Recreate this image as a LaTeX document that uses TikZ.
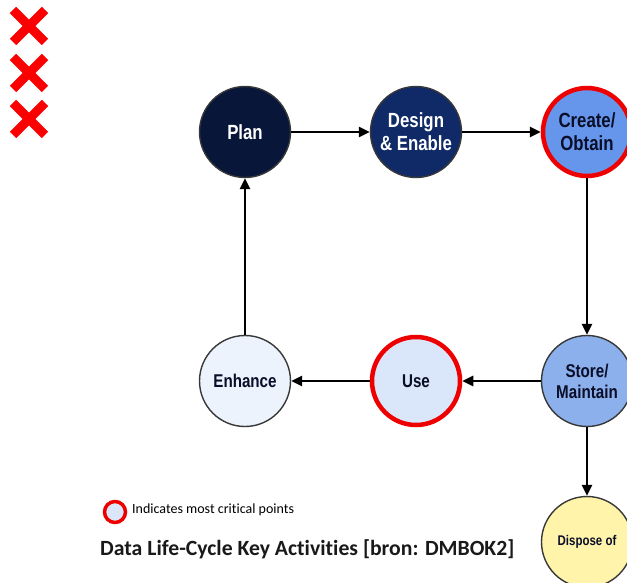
\documentclass[tikz,border=0pt]{standalone}
\usepackage{fontspec}
\usetikzlibrary{arrows.meta}
\setmainfont{Liberation Sans}
\newfontfamily\labelfont{Liberation Sans}[FakeStretch=0.82]
\newfontfamily\titlefont{Carlito}[Ligatures=NoCommon]

\definecolor{planfill}{RGB}{8,22,58}
\definecolor{designfill}{RGB}{16,42,104}
\definecolor{createfill}{RGB}{102,150,236}
\definecolor{storefill}{RGB}{140,176,236}
\definecolor{usefill}{RGB}{218,230,250}
\definecolor{enhancefill}{RGB}{236,243,253}
\definecolor{disposefill}{RGB}{255,244,170}
\definecolor{ringred}{RGB}{238,0,0}
\definecolor{crossred}{RGB}{250,0,0}
\definecolor{labeltext}{RGB}{10,14,40}

\tikzset{
  stage/.style={circle, draw=black!78, line width=1.4pt, minimum size=91pt,
    inner sep=0pt, align=center, text=labeltext,
    font=\labelfont\bfseries\fontsize{18.5}{21}\selectfont},
  bigtext/.style={font=\labelfont\bfseries\fontsize{20.5}{23}\selectfont},
  critical/.style={draw=ringred, line width=4.5pt, minimum size=88pt},
  flow/.style={-{Triangle[length=11pt,width=10pt]}, line width=2.6pt, black},
  crossbar/.style={line width=9pt, crossred},
}

\begin{document}
\begin{tikzpicture}[x=1pt,y=-1pt]
\useasboundingbox (0,0) rectangle (627,583);

% three red crosses
\foreach \cy in {26,73,119} {
  \draw[crossbar] (13,\cy-16) -- (45,\cy+16);
  \draw[crossbar] (13,\cy+16) -- (45,\cy-16);
}

% life-cycle stages
\node[stage, bigtext, fill=planfill, text=white] (plan) at (245,132) {Plan};
\node[stage, bigtext, fill=designfill, text=white] (design) at (416,132) {Design\\\& Enable};
\node[stage, bigtext, critical, fill=createfill] (create) at (587,132) {Create/\\Obtain};
\node[stage, fill=storefill] (store) at (587,381) {Store/\\Maintain};
\node[stage, critical, fill=usefill] (use) at (416,381) {Use};
\node[stage, fill=enhancefill] (enhance) at (245,381) {Enhance};
\node[stage, fill=disposefill,
      font=\labelfont\bfseries\fontsize{14}{16}\selectfont] (dispose) at (587,542) {Dispose of};

% flow between stages
\draw[flow] (plan) -- (design);
\draw[flow] (design) -- (create);
\draw[flow] (create) -- (store);
\draw[flow] (store) -- (use);
\draw[flow] (use) -- (enhance);
\draw[flow] (enhance) -- (plan);
\draw[flow] (store) -- (dispose);

% legend and caption
\node[circle, draw=ringred, line width=3.5pt, fill=usefill, minimum size=21pt,
      inner sep=0pt] (legend) at (115,512) {};
\node[anchor=west, inner sep=0pt, font=\titlefont\fontsize{14}{16}\selectfont]
  (legendtext) at (132,510) {Indicates most critical points};
\node[anchor=west, inner sep=0pt, font=\titlefont\bfseries\fontsize{21.7}{25}\selectfont,
      text=black!90]
  (caption) at (100,549) {Data Life-Cycle Key Activities [bron: DMBOK2]};
\end{tikzpicture}
\end{document}
